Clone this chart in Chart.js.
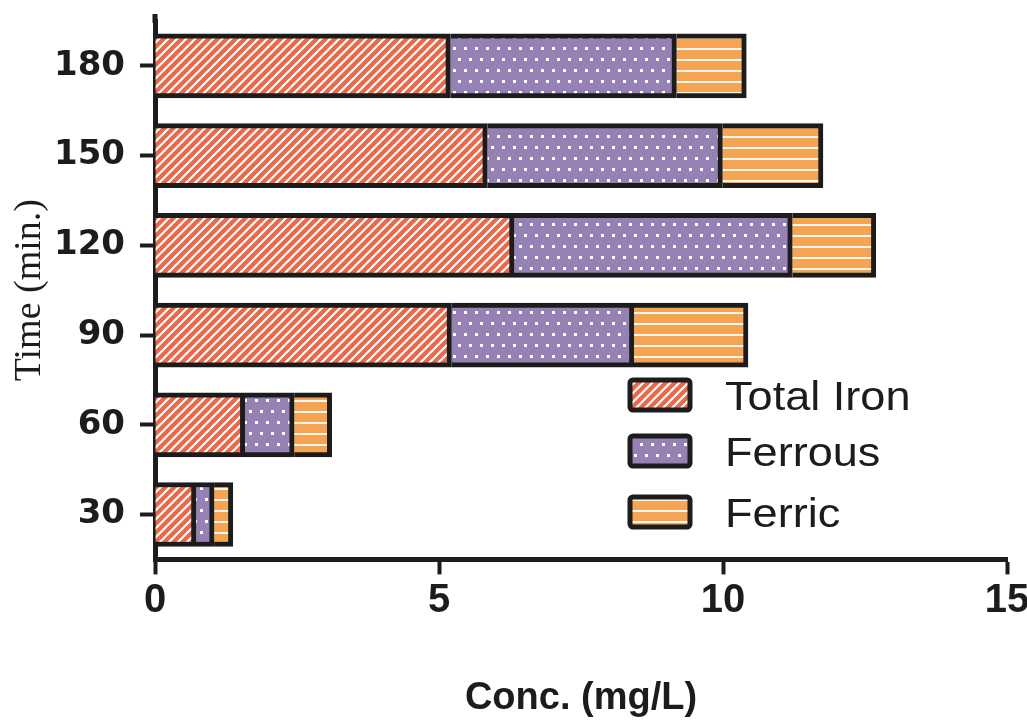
<!DOCTYPE html>
<html>
<head>
<meta charset="utf-8">
<script src="https://cdn.jsdelivr.net/npm/chart.js@4"></script>
<style>
    html, body { margin: 0; padding: 0; background: #ffffff; }
    #wrap { width: 1027px; height: 722px; position: relative; }
</style>
</head>
<body>
<div id="wrap"><canvas id="ironChart"></canvas></div>
<script>
// Iron species over time - stacked horizontal bars
const times = ['30', '60', '90', '120', '150', '180'];
const totalIron = [0.72, 1.58, 5.22, 6.32, 5.85, 5.20];
const ferrous = [0.32, 0.87, 3.21, 4.90, 4.14, 3.98];
const ferric = [0.33, 0.66, 2.01, 1.47, 1.77, 1.23];
const xTicks = [0, 5, 10, 15];
const seriesNames = ['Total Iron', 'Ferrous', 'Ferric'];

const ink = '#1c1c1c';

// Fill patterns
function diagonalPattern(color) {
    const c = document.createElement('canvas');
    c.width = 9; c.height = 9;
    const g = c.getContext('2d');
    g.fillStyle = color;
    g.fillRect(0, 0, 9, 9);
    g.strokeStyle = '#ffffff';
    g.lineWidth = 2.2;
    g.beginPath();
    g.moveTo(-1, 10); g.lineTo(10, -1);
    g.moveTo(-1, 1); g.lineTo(1, -1);
    g.moveTo(8, 10); g.lineTo(10, 8);
    g.stroke();
    return g.createPattern(c, 'repeat');
}

function dotPattern(color) {
    const c = document.createElement('canvas');
    c.width = 11; c.height = 22;
    const g = c.getContext('2d');
    g.fillStyle = color;
    g.fillRect(0, 0, 11, 22);
    g.fillStyle = '#ffffff';
    g.fillRect(2, 3, 3, 3);
    g.fillRect(7, 14, 3, 3);
    return g.createPattern(c, 'repeat');
}

function linePattern(color) {
    const c = document.createElement('canvas');
    c.width = 10; c.height = 11;
    const g = c.getContext('2d');
    g.fillStyle = color;
    g.fillRect(0, 0, 10, 11);
    g.fillStyle = '#fff6ee';
    g.fillRect(0, 4, 10, 2);
    return g.createPattern(c, 'repeat');
}

const fills = [
    diagonalPattern('#e9694a'),
    dotPattern('#9581b3'),
    linePattern('#f5a453')
];

// Legend drawn inside the plot area, plus the short axis stub above the top
const extras = {
    id: 'extras',
    afterDraw(chart) {
        const ctx = chart.ctx;
        const area = chart.chartArea;
        ctx.save();
        ctx.strokeStyle = ink;
        ctx.lineWidth = 5;
        ctx.beginPath();
        ctx.moveTo(area.left, area.top - 7);
        ctx.lineTo(area.left, area.top + 2);
        ctx.stroke();

        const rows = [395, 451, 512];
        const boxX = 630;
        seriesNames.forEach((name, i) => {
            const y = rows[i];
            ctx.fillStyle = fills[i];
            ctx.beginPath();
            ctx.roundRect(boxX, y - 15, 60, 30, 3);
            ctx.fill();
            ctx.lineWidth = 5;
            ctx.strokeStyle = ink;
            ctx.stroke();

            ctx.save();
            ctx.translate(725, y + 15);
            ctx.scale(1.1, 1);
            ctx.fillStyle = ink;
            ctx.font = '41px "Liberation Sans", Arial, sans-serif';
            ctx.textBaseline = 'alphabetic';
            ctx.fillText(name, 0, 0);
            ctx.restore();
        });
        ctx.restore();
    }
};

const ctx = document.getElementById('ironChart');

new Chart(ctx, {
    type: 'bar',
    data: {
        labels: times,
        datasets: [
            { label: seriesNames[0], data: totalIron, backgroundColor: fills[0] },
            { label: seriesNames[1], data: ferrous, backgroundColor: fills[1] },
            { label: seriesNames[2], data: ferric, backgroundColor: fills[2] }
        ].map(ds => Object.assign(ds, {
            borderColor: ink,
            borderWidth: 5,
            barThickness: 64
        }))
    },
    options: {
        indexAxis: 'y',
        responsive: true,
        maintainAspectRatio: false,
        animation: false,
        layout: {
            padding: { top: 21, right: 0, bottom: 1, left: 0 }
        },
        plugins: {
            legend: { display: false },
            tooltip: { enabled: false }
        },
        scales: {
            x: {
                stacked: true,
                min: 0,
                max: 15,
                afterBuildTicks: axis => {
                    axis.ticks = xTicks.map(v => ({ value: v }));
                },
                afterFit: axis => {
                    axis.paddingLeft = 0;
                    axis.paddingRight = 20;
                },
                border: { display: true, color: ink, width: 5 },
                grid: {
                    drawOnChartArea: false,
                    color: ink,
                    tickLength: 15,
                    tickWidth: 4
                },
                ticks: {
                    color: ink,
                    padding: 3,
                    maxRotation: 0,
                    font: { family: '"Liberation Sans", Arial', size: 40, weight: 'bold' }
                },
                title: {
                    display: true,
                    text: 'Conc. (mg/L)',
                    color: ink,
                    padding: { top: 47, bottom: 0 },
                    font: { family: '"Liberation Sans", Arial', size: 38, weight: 'bold' }
                }
            },
            y: {
                stacked: true,
                reverse: true,
                afterFit: axis => {
                    axis.width = 155;
                    axis.paddingTop = 0;
                    axis.paddingBottom = 0;
                },
                border: { display: true, color: ink, width: 5 },
                grid: {
                    offset: false,
                    drawOnChartArea: false,
                    color: ink,
                    tickLength: 15,
                    tickWidth: 4
                },
                ticks: {
                    color: ink,
                    padding: 15,
                    font: { family: '"DejaVu Sans", sans-serif', size: 34, weight: 'bold' }
                },
                title: {
                    display: true,
                    text: 'Time (min.)',
                    color: ink,
                    padding: { top: 7, bottom: 3 },
                    font: { family: '"Liberation Serif", "Times New Roman", serif', size: 38, weight: 'normal' }
                }
            }
        }
    },
    plugins: [extras]
});
</script>
</body>
</html>
